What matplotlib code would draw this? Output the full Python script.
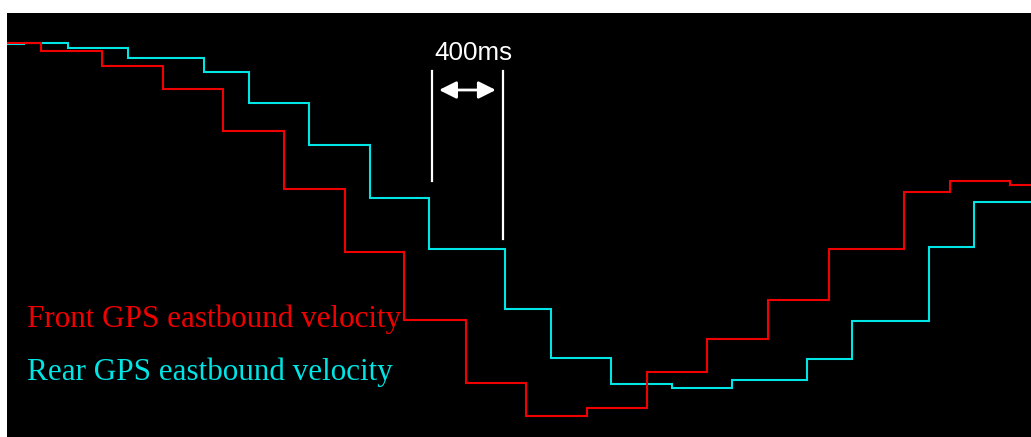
import matplotlib
matplotlib.use("Agg")
import matplotlib.pyplot as plt

# step change times (ms) and velocity levels (arbitrary units)
t_end = 5769
front_t = [192, 535, 879, 1217, 1561, 1904, 2237, 2586, 2924, 3268, 3606,
           3944, 4287, 4631, 5054, 5313, 5651]
front_v = [394, 386, 371, 348, 306, 248, 185, 117, 54, 21, 29, 65, 98, 137,
           188, 245, 256, 252]
rear_t = [96, 344, 682, 1110, 1363, 1701, 2045, 2377, 2806, 3065, 3403,
          3746, 4085, 4507, 4761, 5194, 5448]
rear_v = [393, 394, 389, 379, 365, 334, 292, 239, 188, 128, 79, 53, 49, 57,
          78, 116, 190, 235]

# 400 ms marker
mark_t = [2394, 2794]

fig = plt.figure(figsize=(10.31, 4.37), dpi=100)
ax = fig.add_axes([7 / 1031, 0, 1024 / 1031, 424 / 437])
ax.set_facecolor("black")

ax.stairs(rear_v, [0] + rear_t + [t_end], baseline=None, color="#00E5E5", lw=1.5)
ax.stairs(front_v, [0] + front_t + [t_end], baseline=None, color="#F00000", lw=1.5)

ax.plot([mark_t[0]] * 2, [256, 366], color="white", lw=1.6)
ax.plot([mark_t[1]] * 2, [198, 366], color="white", lw=1.6)
ax.annotate("", xy=(mark_t[0] + 40, 347), xytext=(mark_t[1] - 40, 347),
            arrowprops=dict(arrowstyle="<|-|>", color="white", lw=2,
                            mutation_scale=26, shrinkA=0, shrinkB=0))
ax.text(sum(mark_t) / 2 + 35, 384, "400ms", color="white", fontsize=18.7,
        family="Liberation Sans", ha="center", va="center")

ax.text(115, 110, "Front GPS eastbound velocity", color="#F00000",
        fontsize=22.4, family="Liberation Serif")
ax.text(115, 57, "Rear GPS eastbound velocity", color="#00E5E5",
        fontsize=22.4, family="Liberation Serif")

ax.set_xlim(0, t_end)
ax.set_ylim(0, 424)
ax.set_xticks([])
ax.set_yticks([])
for s in ax.spines.values():
    s.set_visible(False)

fig.savefig("out.png", dpi=100, facecolor="white")
